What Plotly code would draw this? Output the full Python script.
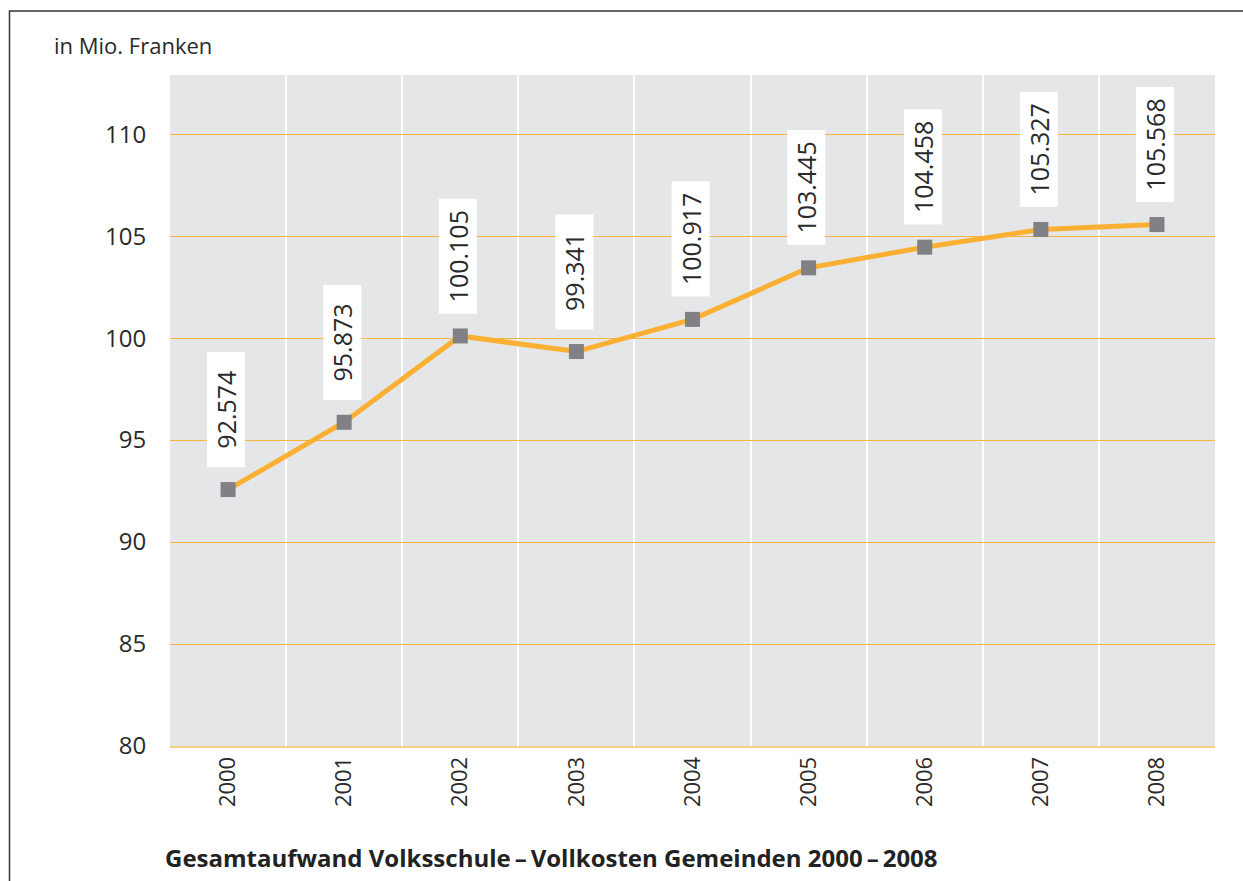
import plotly.graph_objects as go

years = ['2000', '2001', '2002', '2003', '2004', '2005', '2006', '2007', '2008']
values = [92.574, 95.873, 100.105, 99.341, 100.917, 103.445, 104.458, 105.327, 105.568]
labels = ['92.574', '95.873', '100.105', '99.341', '100.917', '103.445', '104.458', '105.327', '105.568']
y_ticks = [80, 85, 90, 95, 100, 105, 110]

FONT = 'Open Sans'
TEXT = '#2a2a2a'
W, H = 1243, 881
L, R, T, B = 170, 28, 75, 135

fig = go.Figure()

fig.add_trace(go.Scatter(
    x=years,
    y=values,
    mode='lines+markers',
    line=dict(color='#fbb034', width=5),
    marker=dict(symbol='square', size=15, color='#808085'),
    showlegend=False,
    hoverinfo='skip',
))

# value labels: white boxes with rotated text above each point
for i, (v, lab) in enumerate(zip(values, labels)):
    fig.add_annotation(
        x=i, y=v, text=lab,
        textangle=-90,
        xanchor='center', yanchor='bottom',
        xshift=-2, yshift=22,
        width=110, height=33, borderpad=2,
        bgcolor='white',
        showarrow=False,
        font=dict(family=FONT, size=25, color=TEXT),
    )

pw = W - L - R
ph = H - T - B


def px(x):
    return (x - L) / pw


def py(y):
    return (H - B - y) / ph


fig.add_annotation(
    x=px(52), y=py(45), xref='paper', yref='paper',
    xanchor='left', yanchor='middle',
    text='in Mio. Franken', showarrow=False,
    font=dict(family=FONT, size=22, color=TEXT),
)
fig.add_annotation(
    x=px(163), y=py(858), xref='paper', yref='paper',
    xanchor='left', yanchor='middle',
    text='<b>Gesamtaufwand Volksschule\u2009\u2013\u2009Vollkosten Gemeinden 2000\u2009\u2013\u20092008</b>',
    showarrow=False,
    font=dict(family=FONT, size=24, color='#222222'),
)

# outer frame (only left and top edges fall inside the page)
fig.add_shape(
    type='rect', xref='paper', yref='paper',
    x0=px(9.5), x1=px(1300), y0=py(11), y1=py(950),
    line=dict(color='#333333', width=1.5),
    fillcolor='rgba(0,0,0,0)', layer='above',
)

fig.update_layout(
    width=W,
    height=H,
    margin=dict(l=L, r=R, t=T, b=B),
    paper_bgcolor='white',
    plot_bgcolor='#e5e6e8',
    font=dict(family=FONT, color=TEXT),
    xaxis=dict(
        type='category',
        categoryorder='array', categoryarray=years,
        range=[-0.5, 8.5],
        tickson='boundaries',
        showgrid=True, gridcolor='white', gridwidth=1.5,
        tickangle=-90,
        tickfont=dict(size=22),
        ticks='outside', ticklen=18, tickcolor='rgba(0,0,0,0)',
        showline=True, linecolor='#f9cf84', linewidth=2,
        zeroline=False,
    ),
    yaxis=dict(
        range=[80, 112.9],
        tickvals=y_ticks,
        showgrid=True, gridcolor='#f6b43c', gridwidth=1,
        tickfont=dict(size=24),
        ticks='outside', ticklen=18, tickcolor='rgba(0,0,0,0)',
        zeroline=False,
        showline=False,
    ),
)

fig.write_html(
    'out.html',
    config={'displayModeBar': False},
    post_script="document.body.style.margin='0';document.body.style.overflow='hidden';",
)
